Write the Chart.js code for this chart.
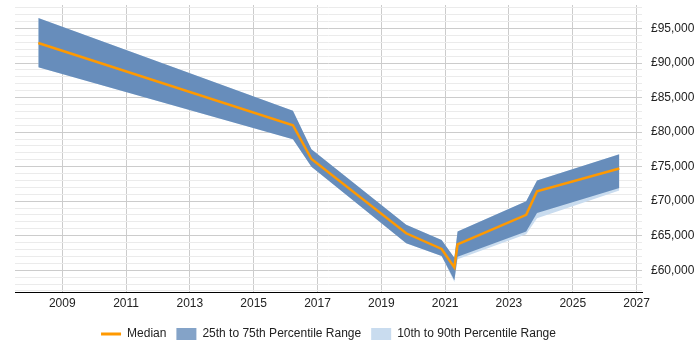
<!DOCTYPE html>
<html>
<head>
<meta charset="utf-8">
<script src="https://cdn.jsdelivr.net/npm/chart.js@4/dist/chart.umd.min.js"></script>
<style>
  html, body { margin: 0; padding: 0; background: #fff; }
  #wrap { width: 700px; height: 350px; }
</style>
</head>
<body>
<div id="wrap"><canvas id="chart"></canvas></div>
<script>
  // values
  const years = [2008.25, 2016.23, 2016.81, 2019.78, 2020.89, 2021.29, 2021.39, 2023.54, 2023.88, 2026.46];
  const median = [92900, 81000, 76100, 65350, 63080, 60400, 63750, 68030, 71430, 74740];
  const p75 = [96500, 83100, 77500, 66580, 64390, 61800, 65600, 69990, 72990, 76780];
  const p25 = [89400, 78970, 75000, 63890, 62060, 58560, 61950, 65600, 68270, 71910];
  const p90 = [96500, 83100, 77500, 66580, 64390, 61800, 65600, 69990, 72990, 76780];
  const p10 = [89400, 78970, 75000, 63890, 62060, 58300, 61600, 65200, 67540, 71530];
  const xTicks = [2009, 2011, 2013, 2015, 2017, 2019, 2021, 2023, 2025, 2027];

  const yMin = 56850, yMax = 98400;
  const yTicks = [];
  for (let v = 57000; v <= 98000; v += 1000) yTicks.push(v);

  const pts = (arr) => arr.map((v, i) => ({ x: years[i], y: v }));

  const ORANGE = "#ff9900";
  const BAND = "rgba(70,115,170,0.75)";
  const BAND_LEGEND = "#84a3c8";
  const LIGHT = "#c9dcef";
  const FONT = { family: "'Liberation Sans', Arial, sans-serif", size: 12 };

  const line = (label, data, extra) => Object.assign({
    label, data,
    borderWidth: 0,
    pointRadius: 0,
    tension: 0
  }, extra);

  new Chart(document.getElementById("chart"), {
    type: "line",
    data: {
      datasets: [
        line("p10", pts(p10), { order: 4, borderColor: "transparent", fill: false }),
        line("p90", pts(p90), { order: 3, borderColor: "transparent", backgroundColor: LIGHT, fill: { target: 0 } }),
        line("p25", pts(p25), { order: 2, borderColor: "transparent", fill: false }),
        line("p75", pts(p75), { order: 1, borderColor: "transparent", backgroundColor: BAND, fill: { target: 2 } }),
        line("Median", pts(median), { order: 0, borderColor: ORANGE, borderWidth: 2.5, fill: false })
      ]
    },
    options: {
      responsive: true,
      maintainAspectRatio: false,
      animation: false,
      layout: { padding: { left: 15, top: 5, right: 0, bottom: 0 } },
      plugins: {
        tooltip: { enabled: false },
        legend: {
          position: "bottom",
          fullSize: false,
          labels: {
            color: "#222",
            font: FONT,
            usePointStyle: true,
            pointStyleWidth: 20,
            boxHeight: 12,
            padding: 10,
            generateLabels: () => [
              { text: "Median", pointStyle: "line", strokeStyle: ORANGE, fillStyle: ORANGE, lineWidth: 3, fontColor: "#222" },
              { text: "25th to 75th Percentile Range", pointStyle: "rect", fillStyle: BAND_LEGEND, strokeStyle: BAND_LEGEND, lineWidth: 0, fontColor: "#222" },
              { text: "10th to 90th Percentile Range", pointStyle: "rect", fillStyle: LIGHT, strokeStyle: LIGHT, lineWidth: 0, fontColor: "#222" }
            ]
          }
        }
      },
      scales: {
        x: {
          type: "linear",
          min: 2007.52,
          max: 2027.17,
          afterBuildTicks: (s) => { s.ticks = xTicks.map((v) => ({ value: v })); },
          afterFit: (s) => { s.height = 26; s.paddingLeft = 0; s.paddingRight = 0; },
          ticks: { color: "#222", font: FONT, padding: 4, callback: (v) => String(v) },
          grid: { color: "#cccccc", drawTicks: false },
          border: { display: true, color: "#000", width: 1 }
        },
        y: {
          position: "right",
          min: yMin,
          max: yMax,
          afterBuildTicks: (s) => { s.ticks = yTicks.map((v) => ({ value: v })); },
          afterFit: (s) => { s.width = 58; s.paddingTop = 0; s.paddingBottom = 0; },
          ticks: {
            color: "#222",
            font: FONT,
            padding: 9,
            autoSkip: false,
            callback: (v) => (v % 5000 === 0 ? "£" + v.toLocaleString("en-GB") : "")
          },
          grid: {
            drawTicks: false,
            color: (c) => (c.tick && c.tick.value % 5000 === 0 ? "#cccccc" : "#ebebeb")
          },
          border: { display: false }
        }
      }
    }
  });
</script>
</body>
</html>
